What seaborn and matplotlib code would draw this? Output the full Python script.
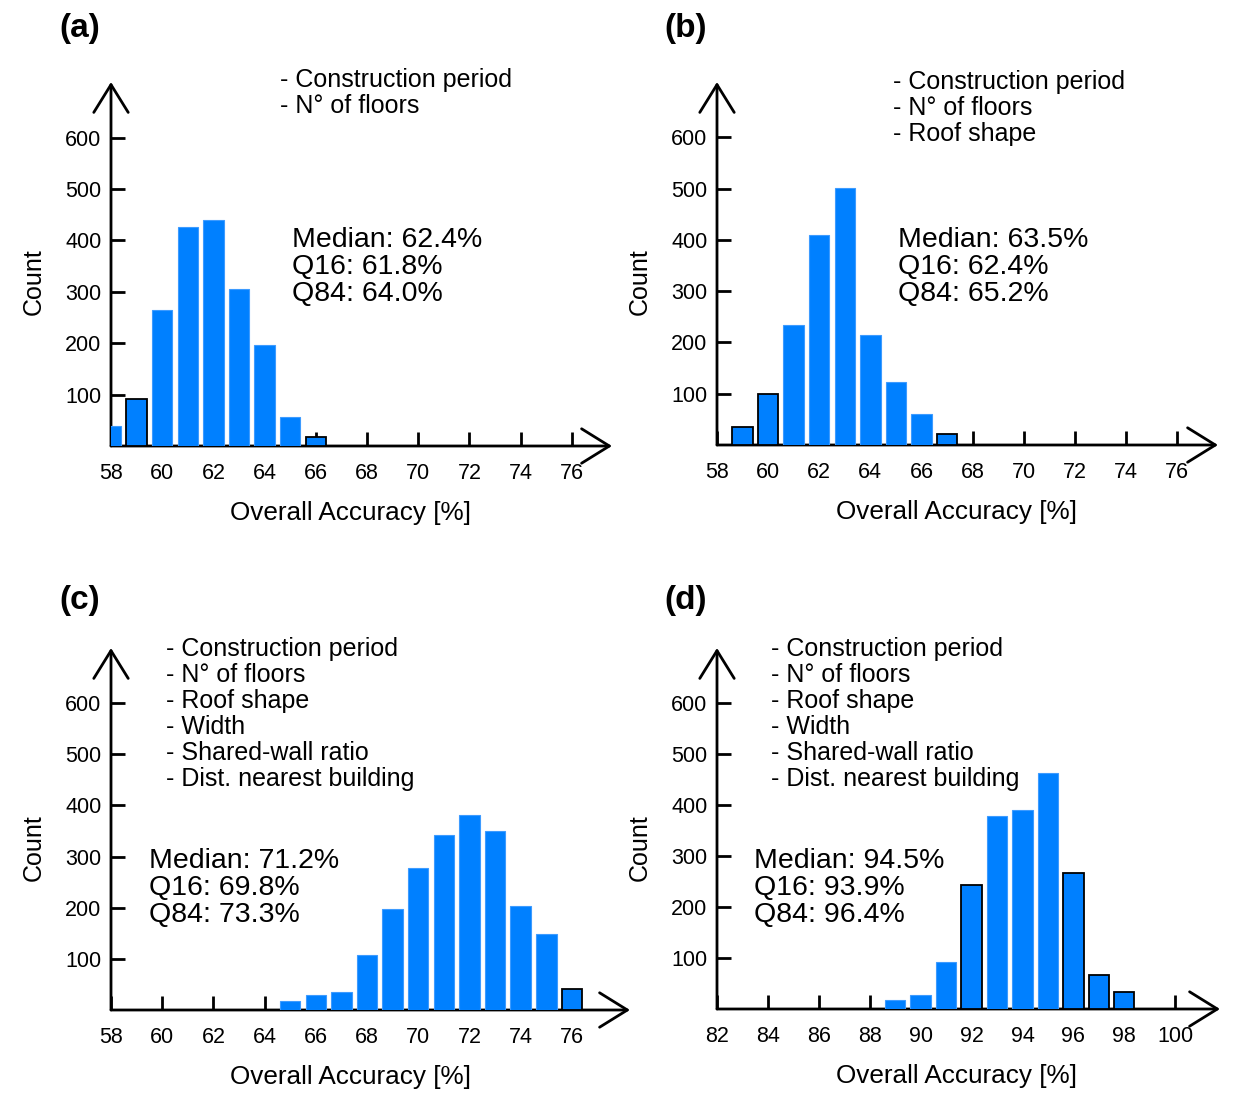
import matplotlib
matplotlib.use("Agg")
import matplotlib.pyplot as plt
import seaborn as sns
import pandas as pd

# ---- data ----
bins_a = [58, 59, 60, 61, 62, 63, 64, 65, 66]
counts_a = [38, 92, 265, 426, 439, 306, 196, 56, 18]

bins_b = [59, 60, 61, 62, 63, 64, 65, 66, 67]
counts_b = [36, 100, 234, 409, 501, 214, 123, 61, 22]

bins_c = [65, 66, 67, 68, 69, 70, 71, 72, 73, 74, 75, 76]
counts_c = [18, 29, 35, 107, 197, 278, 342, 381, 350, 204, 148, 42]

bins_d = [89, 90, 91, 92, 93, 94, 95, 96, 97, 98]
counts_d = [17, 27, 92, 243, 379, 390, 462, 267, 67, 34]

features_a = ["Construction period", "N° of floors"]
features_b = features_a + ["Roof shape"]
features_c = features_b + ["Width", "Shared-wall ratio", "Dist. nearest building"]
features_d = features_c

stats_a = ["Median: 62.4%", "Q16: 61.8%", "Q84: 64.0%"]
stats_b = ["Median: 63.5%", "Q16: 62.4%", "Q84: 65.2%"]
stats_c = ["Median: 71.2%", "Q16: 69.8%", "Q84: 73.3%"]
stats_d = ["Median: 94.5%", "Q16: 93.9%", "Q84: 96.4%"]

xticks_abc = list(range(58, 77, 2))
xticks_d = list(range(82, 101, 2))
yticks = [100, 200, 300, 400, 500, 600]

# bars that show a dark outline in the original
dark_edges = {"a": [59, 66], "b": [59, 60, 67], "c": [76], "d": [92, 96, 97, 98]}

W, H = 1233, 1094
BLUE = "#0080FF"

sns.set_style("white")
plt.rcParams["font.family"] = ["Liberation Sans", "DejaVu Sans"]
plt.rcParams.update({"text.color": "black", "xtick.color": "black",
                     "ytick.color": "black", "axes.labelcolor": "black"})

fig = plt.figure(figsize=(W / 100, H / 100), dpi=100)


def fx(x):
    return x / W


def fy(y):
    return 1 - y / H


panels = [
    # key, bins, counts, (left, right, top, bottom) px, xlim, xticks, label pos, features pos, stats pos
    ("a", bins_a, counts_a, (111, 612, 82, 446), (58, 77.57), xticks_abc, (80, 29), (280, 80), (292, 240), features_a, stats_a),
    ("b", bins_b, counts_b, (717, 1218, 82, 445), (58, 77.6), xticks_abc, (686, 29), (893, 82), (898, 240), features_b, stats_b),
    ("c", bins_c, counts_c, (111, 630, 648, 1010), (58, 78.27), xticks_abc, (80, 601), (166, 649), (149, 861), features_c, stats_c),
    ("d", bins_d, counts_d, (717, 1220, 648, 1009), (82, 101.76), xticks_d, (686, 601), (771, 649), (754, 861), features_d, stats_d),
]

for key, bins, counts, (L, R, T, B), xlim, xticks, lab, fpos, spos, feats, stats in panels:
    ax = fig.add_axes([fx(L), fy(B), (R - L) / W, (B - T) / H])
    df = pd.DataFrame({"acc": bins, "count": counts})
    sns.barplot(data=df, x="acc", y="count", native_scale=True, width=0.8,
                color=BLUE, saturation=1, ax=ax, zorder=2)
    for p, b in zip(ax.patches, bins):
        if b in dark_edges[key]:
            p.set_edgecolor("black")
            p.set_linewidth(1.3)
        else:
            p.set_edgecolor("#3d9bff")
            p.set_linewidth(0.8)

    ax.set_xlim(*xlim)
    ax.set_ylim(0, 708)
    ax.set_xticks(xticks)
    ax.set_yticks(yticks)
    for s in ax.spines.values():
        s.set_visible(False)
    ax.tick_params(axis="both", direction="in", length=10, width=2, color="black",
                   labelsize=15.5, labelcolor="black", bottom=True, left=True)
    ax.tick_params(axis="x", pad=12.5)
    ax.tick_params(axis="y", pad=7)
    ax.set_xlabel("")
    ax.set_ylabel("")
    ax.grid(False)

    arrow = dict(arrowstyle="->,head_length=1.0,head_width=0.62", lw=2, color="black",
                 mutation_scale=20, shrinkA=0, shrinkB=0)
    ax.annotate("", xy=(1, 0), xytext=(0, 0), xycoords="axes fraction",
                arrowprops=arrow, annotation_clip=False, zorder=1)
    ax.annotate("", xy=(0, 1), xytext=(0, 0), xycoords="axes fraction",
                arrowprops=arrow, annotation_clip=False, zorder=1)

    fig.text(fx(lab[0]), fy(lab[1]), f"({key})", fontsize=24, fontweight="bold",
             ha="center", va="center")
    fig.text(fx(L + 239), fy(B + 67), "Overall Accuracy [%]", fontsize=18.8,
             ha="center", va="center")
    fig.text(fx(L - 77), fy(T + 200), "Count", fontsize=18, rotation=90,
             ha="center", va="center")
    for i, f in enumerate(feats):
        fig.text(fx(fpos[0]), fy(fpos[1] + 26 * i), "- " + f, fontsize=18,
                 ha="left", va="center")
    for i, s in enumerate(stats):
        fig.text(fx(spos[0]), fy(spos[1] + 27 * i), s, fontsize=20.5,
                 ha="left", va="center")

fig.savefig("out.png", dpi=100)
